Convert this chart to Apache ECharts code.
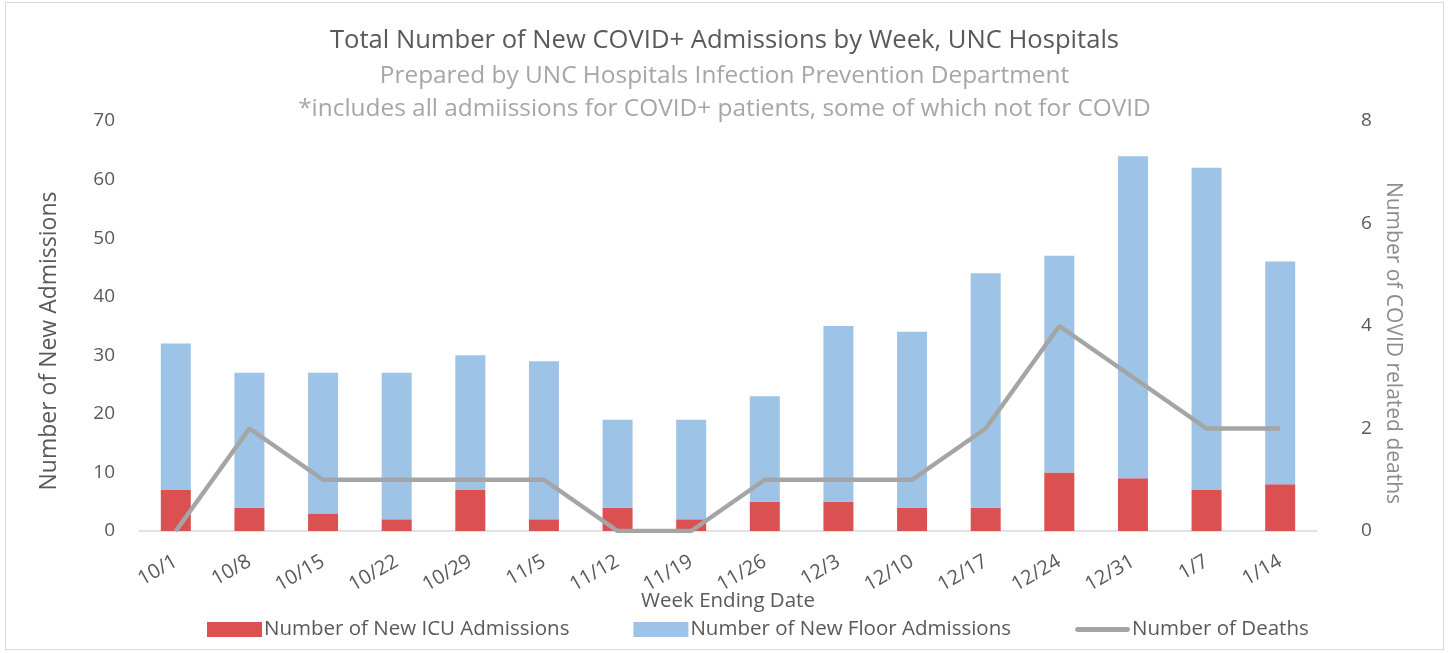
<!DOCTYPE html>
<html>
<head>
<meta charset="utf-8">
<title>COVID+ Admissions by Week</title>
<script src="https://cdn.jsdelivr.net/npm/echarts@6/dist/echarts.min.js"></script>
<style>
    html, body { margin: 0; padding: 0; background: #fff; }
    #frame {
        position: absolute; left: 5px; top: 2px; width: 1437px; height: 646px;
        border: 1px solid #d9d9d9;
    }
    #chart { position: absolute; left: -6px; top: -3px; width: 1449px; height: 653px; }
</style>
</head>
<body>
<div id="frame"><div id="chart"></div></div>
<script>
    var weeks = ["10/1", "10/8", "10/15", "10/22", "10/29", "11/5", "11/12", "11/19",
        "11/26", "12/3", "12/10", "12/17", "12/24", "12/31", "1/7", "1/14"];
    var icuAdmissions = [7, 4, 3, 2, 7, 2, 4, 2, 5, 5, 4, 4, 10, 9, 7, 8];
    var floorAdmissions = [25, 23, 24, 25, 23, 27, 15, 17, 18, 30, 30, 40, 37, 55, 55, 38];
    var deaths = [0, 2, 1, 1, 1, 1, 0, 0, 1, 1, 1, 2, 4, 3, 2, 2];

    var fontFamily = "'Open Sans', 'Noto Sans', sans-serif";
    var chart = echarts.init(document.getElementById("chart"));

    // thin line icon for the deaths legend entry (M points keep the box 55x15)
    var lineIcon = "path://M0,0 M0,15 M2,5 L53,5 A2.5,2.5 0 0 1 53,10 L2,10 A2.5,2.5 0 0 1 2,5 Z";

    var option = {
        animation: false,
        textStyle: { fontFamily: fontFamily },
        title: [{
            text: "Total Number of New COVID+ Admissions by Week, UNC Hospitals",
            left: "center",
            top: 23,
            textStyle: { fontSize: 25.6, fontWeight: "normal", color: "#595959", fontFamily: fontFamily }
        }, {
            text: "Prepared by UNC Hospitals Infection Prevention Department",
            left: "center",
            top: 59,
            textStyle: { fontSize: 24.4, fontWeight: "normal", color: "#a6a6a6", fontFamily: fontFamily }
        }, {
            text: "*includes all admiissions for COVID+ patients, some of which not for COVID",
            left: "center",
            top: 92,
            textStyle: { fontSize: 24.4, fontWeight: "normal", color: "#a6a6a6", fontFamily: fontFamily }
        }],
        legend: {
            bottom: 8,
            left: 202,
            itemGap: 64,
            itemWidth: 55,
            itemHeight: 15,
            textStyle: { fontSize: 20.5, color: "#595959", padding: [0, 0, 0, -3] },
            data: [
                { name: "Number of New ICU Admissions", icon: "rect" },
                { name: "Number of New Floor Admissions", icon: "rect" },
                { name: "Number of Deaths", icon: lineIcon, itemStyle: { color: "#a5a5a5" } }
            ]
        },
        grid: {
            left: 139,
            right: 132,
            top: 121,
            bottom: 122
        },
        xAxis: {
            type: "category",
            data: weeks,
            name: "Week Ending Date",
            nameLocation: "middle",
            nameGap: 60,
            nameMoveOverlap: false,
            nameTextStyle: { fontSize: 20.5, color: "#595959" },
            axisLine: { lineStyle: { color: "#d9d9d9", width: 1.5 } },
            axisTick: { show: false },
            axisLabel: { rotate: 30, fontSize: 20, color: "#595959", margin: 29 }
        },
        yAxis: [{
            type: "value",
            min: 0,
            max: 70,
            interval: 10,
            name: "Number of New Admissions",
            nameLocation: "middle",
            nameGap: 78,
            nameTextStyle: { fontSize: 23, color: "#595959", padding: [0, 0, 0, -30] },
            axisLine: { show: false },
            axisTick: { show: false },
            splitLine: { show: false },
            axisLabel: { fontSize: 19, color: "#595959", margin: 24 }
        }, {
            type: "value",
            min: 0,
            max: 8,
            interval: 2,
            name: "Number of COVID related deaths",
            nameLocation: "middle",
            nameRotate: -90,
            nameGap: 63,
            nameTextStyle: { fontSize: 21, color: "#8c8c8c", padding: [0, 0, 0, 34] },
            axisLine: { show: false },
            axisTick: { show: false },
            splitLine: { show: false },
            axisLabel: { fontSize: 19, color: "#595959", margin: 44 }
        }],
        series: [{
            name: "Number of New ICU Admissions",
            type: "bar",
            stack: "admissions",
            barWidth: 30,
            itemStyle: { color: "#db5050" },
            data: icuAdmissions
        }, {
            name: "Number of New Floor Admissions",
            type: "bar",
            stack: "admissions",
            barWidth: 30,
            itemStyle: { color: "#9dc3e6" },
            data: floorAdmissions
        }, {
            name: "Number of Deaths",
            type: "line",
            yAxisIndex: 1,
            showSymbol: false,
            symbol: "none",
            lineStyle: { color: "#a5a5a5", width: 4.5 },
            itemStyle: { color: "#a5a5a5" },
            data: deaths
        }]
    };

    chart.setOption(option);
</script>
</body>
</html>
